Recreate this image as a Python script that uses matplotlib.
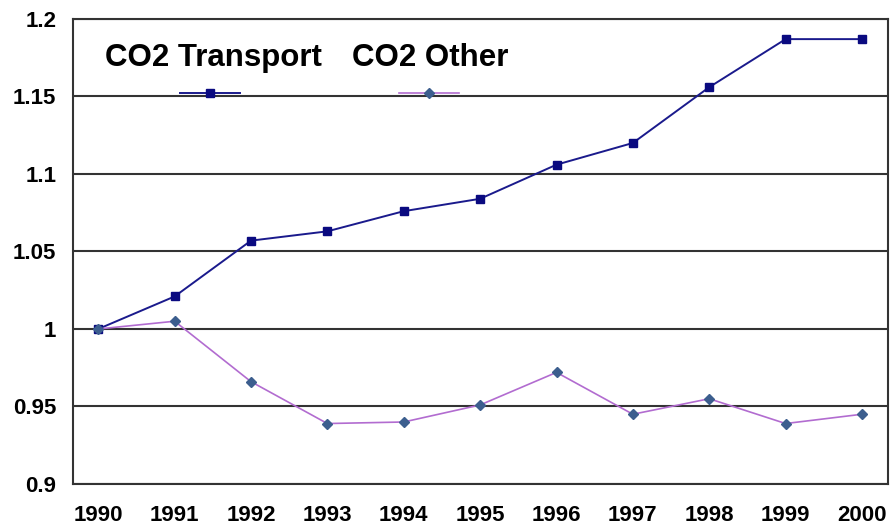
import matplotlib.pyplot as plt
from matplotlib.lines import Line2D

# Data
years = ["1990", "1991", "1992", "1993", "1994", "1995",
         "1996", "1997", "1998", "1999", "2000"]
co2_transport = [1.000, 1.021, 1.057, 1.063, 1.076, 1.084,
                 1.106, 1.120, 1.156, 1.187, 1.187]
co2_other = [1.000, 1.005, 0.966, 0.939, 0.940, 0.951,
             0.972, 0.945, 0.955, 0.939, 0.945]
labels = ["CO2 Transport", "CO2 Other"]

plt.rcParams['font.family'] = ['Liberation Sans', 'DejaVu Sans']

fig = plt.figure(figsize=(8.91, 5.27), dpi=100)
ax = fig.add_axes([0.082, 0.0816, 0.9146, 0.8824])

xs = range(len(years))
ax.plot(xs, co2_transport, color="#1a1a8c", lw=1.4, marker="s",
        ms=6, mfc="#0a0a80", mec="#0a0a80", zorder=3)
ax.plot(xs, co2_other, color="#b26cd0", lw=1.2, marker="D",
        ms=5.5, mfc="#3c5e8e", mec="#3c5e8e", zorder=3)

ax.set_xlim(-0.33, 10.34)
ax.set_ylim(0.9, 1.2)
ax.set_yticks([0.9, 0.95, 1.0, 1.05, 1.1, 1.15, 1.2])
ax.set_yticklabels(["0.9", "0.95", "1", "1.05", "1.1", "1.15", "1.2"])
ax.set_xticks(list(xs))
ax.set_xticklabels(years)
ax.tick_params(axis="both", length=0, labelsize=16)
ax.tick_params(axis="y", pad=12)
ax.tick_params(axis="x", pad=15)
for lab in ax.get_xticklabels() + ax.get_yticklabels():
    lab.set_fontweight("bold")

ax.yaxis.grid(True, color="#333333", lw=1.5)
ax.set_axisbelow(True)
for sp in ax.spines.values():
    sp.set_color("#333333")
    sp.set_linewidth(1.5)

# legend drawn by hand: label above its line sample
ax.text(0.172, 0.916, labels[0], transform=ax.transAxes, ha="center",
        va="center", fontsize=22.5, fontweight="bold")
ax.text(0.438, 0.916, labels[1], transform=ax.transAxes, ha="center",
        va="center", fontsize=22.5, fontweight="bold")
ax.add_line(Line2D([0.131, 0.205], [0.841, 0.841], transform=ax.transAxes,
                   color="#1a1a8c", lw=1.4))
ax.add_line(Line2D([0.168], [0.841], transform=ax.transAxes, marker="s",
                   ms=6, mfc="#0a0a80", mec="#0a0a80"))
ax.add_line(Line2D([0.400, 0.474], [0.841, 0.841], transform=ax.transAxes,
                   color="#b26cd0", lw=1.2))
ax.add_line(Line2D([0.437], [0.841], transform=ax.transAxes, marker="D",
                   ms=5.5, mfc="#3c5e8e", mec="#3c5e8e"))

fig.savefig("out.png", dpi=100)
